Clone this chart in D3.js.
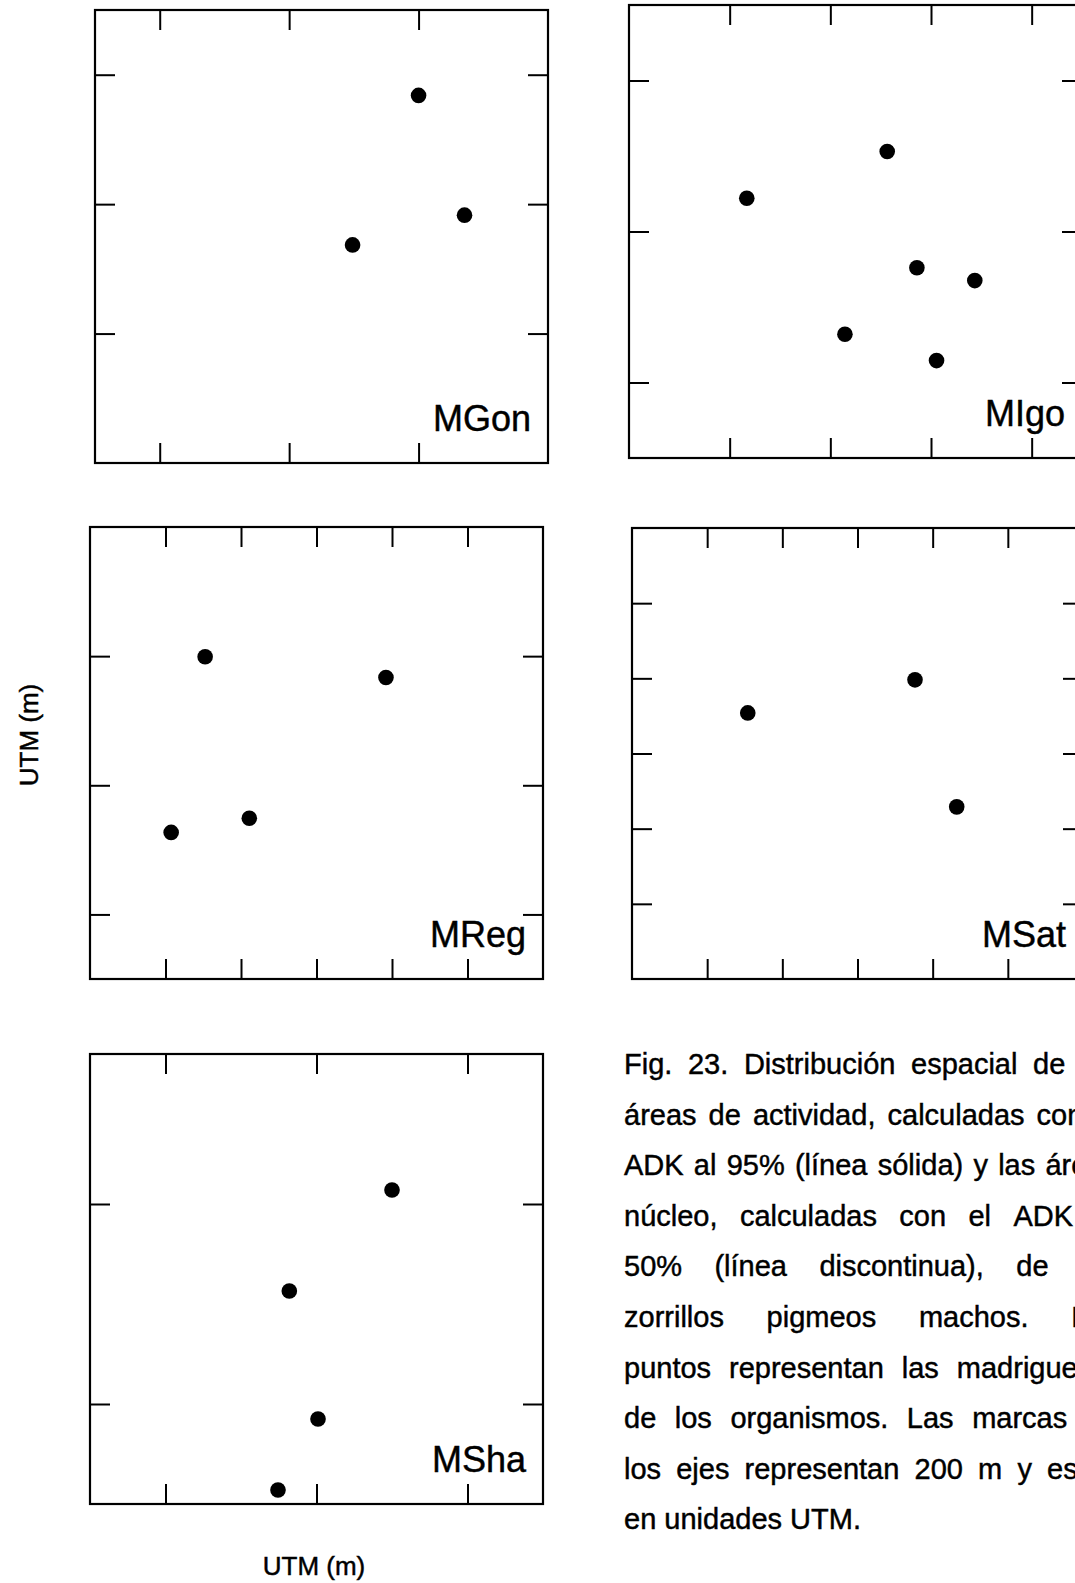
<!DOCTYPE html>
<html>
<head>
<meta charset="utf-8">
<script src="https://cdn.jsdelivr.net/npm/d3@7"></script>
<style>
  html, body { margin: 0; padding: 0; background: #fff; }
  svg { display: block; }
  text { font-family: "Liberation Sans", Arial, Helvetica, sans-serif; fill: #000; stroke: #000; stroke-width: 0.45px; }
</style>
</head>
<body>
<svg id="fig" width="1075" height="1583"></svg>
<script>
// Burrow locations of each male pygmy skunk, in metres from the lower-left corner of its map.
const panelNames = ["MGon", "MIgo", "MReg", "MSat", "MSha"];

const burrowsMGon = [[500, 568], [571, 383], [398, 337]];
const burrowsMIgo = [[234, 344], [513, 406], [572, 252], [687, 235], [429, 164], [611, 129]];
const burrowsMReg = [[305, 499], [784, 467], [422, 249], [215, 227]];
const burrowsMSat = [[308, 708], [753, 796], [864, 458]];
const burrowsMSha = [[400, 314], [264, 213], [302, 85], [249, 14]];

// Map extents (m) and tick marks every 200 m
const extentX = [700, 900, 1200, 1200, 600];
const extentY = [700, 600, 700, 1200, 450];
const xTicksMGon = [100, 300, 500];
const yTicksMGon = [200, 400, 600];
const xTicksMIgo = [200, 400, 600, 800];
const yTicksMIgo = [100, 300, 500];
const xTicksMReg = [200, 400, 600, 800, 1000];
const yTicksMReg = [100, 300, 500];
const xTicksMSat = [200, 400, 600, 800, 1000];
const yTicksMSat = [200, 400, 600, 800, 1000];
const xTicksMSha = [100, 300, 500];
const yTicksMSha = [100, 300];

const axisTitle = "UTM (m)";

const captionLines = [
  "Fig. 23. Distribución espacial de las",
  "áreas de actividad, calculadas con el",
  "ADK al 95% (línea sólida) y las áreas",
  "núcleo, calculadas con el ADK al",
  "50% (línea discontinua), de los",
  "zorrillos pigmeos machos. Los",
  "puntos representan las madrigueras",
  "de los organismos. Las marcas en",
  "los ejes representan 200 m y están",
  "en unidades UTM."
];

const burrows = [burrowsMGon, burrowsMIgo, burrowsMReg, burrowsMSat, burrowsMSha];
const xTicks = [xTicksMGon, xTicksMIgo, xTicksMReg, xTicksMSat, xTicksMSha];
const yTicks = [yTicksMGon, yTicksMIgo, yTicksMReg, yTicksMSat, yTicksMSha];

// Page layout of the five map frames: left, top, width, height (px)
const frames = [
  [95, 10, 453, 453],
  [629, 5, 453, 453],
  [90, 527, 453, 452],
  [632, 528, 451, 451],
  [90, 1054, 453, 450]
];

const svg = d3.select("#fig");
const tickLen = 20;

panelNames.forEach((name, i) => {
  const [fx, fy, fw, fh] = frames[i];
  const x = d3.scaleLinear().domain([0, extentX[i]]).range([0, fw]);
  const y = d3.scaleLinear().domain([0, extentY[i]]).range([fh, 0]);
  const g = svg.append("g").attr("transform", `translate(${fx},${fy})`);

  const styleAxis = sel => {
    sel.select(".domain").remove();
    sel.selectAll(".tick text").remove();
    sel.selectAll(".tick line").attr("stroke", "#000").attr("stroke-width", 2);
  };

  // inward ticks on all four sides
  g.append("g").call(d3.axisTop(x).tickValues(xTicks[i]).tickSize(-tickLen).tickFormat("")).call(styleAxis);
  g.append("g").attr("transform", `translate(0,${fh})`)
    .call(d3.axisBottom(x).tickValues(xTicks[i]).tickSize(-tickLen).tickFormat("")).call(styleAxis);
  g.append("g").call(d3.axisLeft(y).tickValues(yTicks[i]).tickSize(-tickLen).tickFormat("")).call(styleAxis);
  g.append("g").attr("transform", `translate(${fw},0)`)
    .call(d3.axisRight(y).tickValues(yTicks[i]).tickSize(-tickLen).tickFormat("")).call(styleAxis);

  g.append("rect")
    .attr("x", 0).attr("y", 0).attr("width", fw).attr("height", fh)
    .attr("fill", "none").attr("stroke", "#000").attr("stroke-width", 2.2);

  g.selectAll("circle.burrow")
    .data(burrows[i])
    .join("circle")
    .attr("class", "burrow")
    .attr("cx", d => x(d[0]))
    .attr("cy", d => y(d[1]))
    .attr("r", 7.8)
    .attr("fill", "#000");

  g.append("text")
    .attr("x", fw - 17)
    .attr("y", fh - 32)
    .attr("text-anchor", "end")
    .attr("font-size", 36)
    .text(name);
});

// Axis titles
svg.append("text")
  .attr("transform", "translate(38,735) rotate(-90)")
  .attr("text-anchor", "middle")
  .attr("font-size", 26)
  .text(axisTitle);

svg.append("text")
  .attr("x", 314)
  .attr("y", 1575)
  .attr("text-anchor", "middle")
  .attr("font-size", 26)
  .text(axisTitle);

// Justified caption block
const capLeft = 624, capRight = 1118, capTop = 1074, capLead = 50.6, capSize = 29;
const cap = svg.append("g").attr("font-size", capSize);
captionLines.forEach((line, li) => {
  const words = line.split(" ");
  const yy = capTop + li * capLead;
  const nodes = words.map(w => cap.append("text").attr("y", yy).text(w));
  const widths = nodes.map(n => n.node().getComputedTextLength());
  const total = d3.sum(widths);
  const last = li === captionLines.length - 1;
  const space = capSize * 0.278;
  const gap = (!last && words.length > 1) ? (capRight - capLeft - total) / (words.length - 1) : space;
  let cx = capLeft;
  nodes.forEach((n, k) => { n.attr("x", cx); cx += widths[k] + gap; });
});
</script>
</body>
</html>
